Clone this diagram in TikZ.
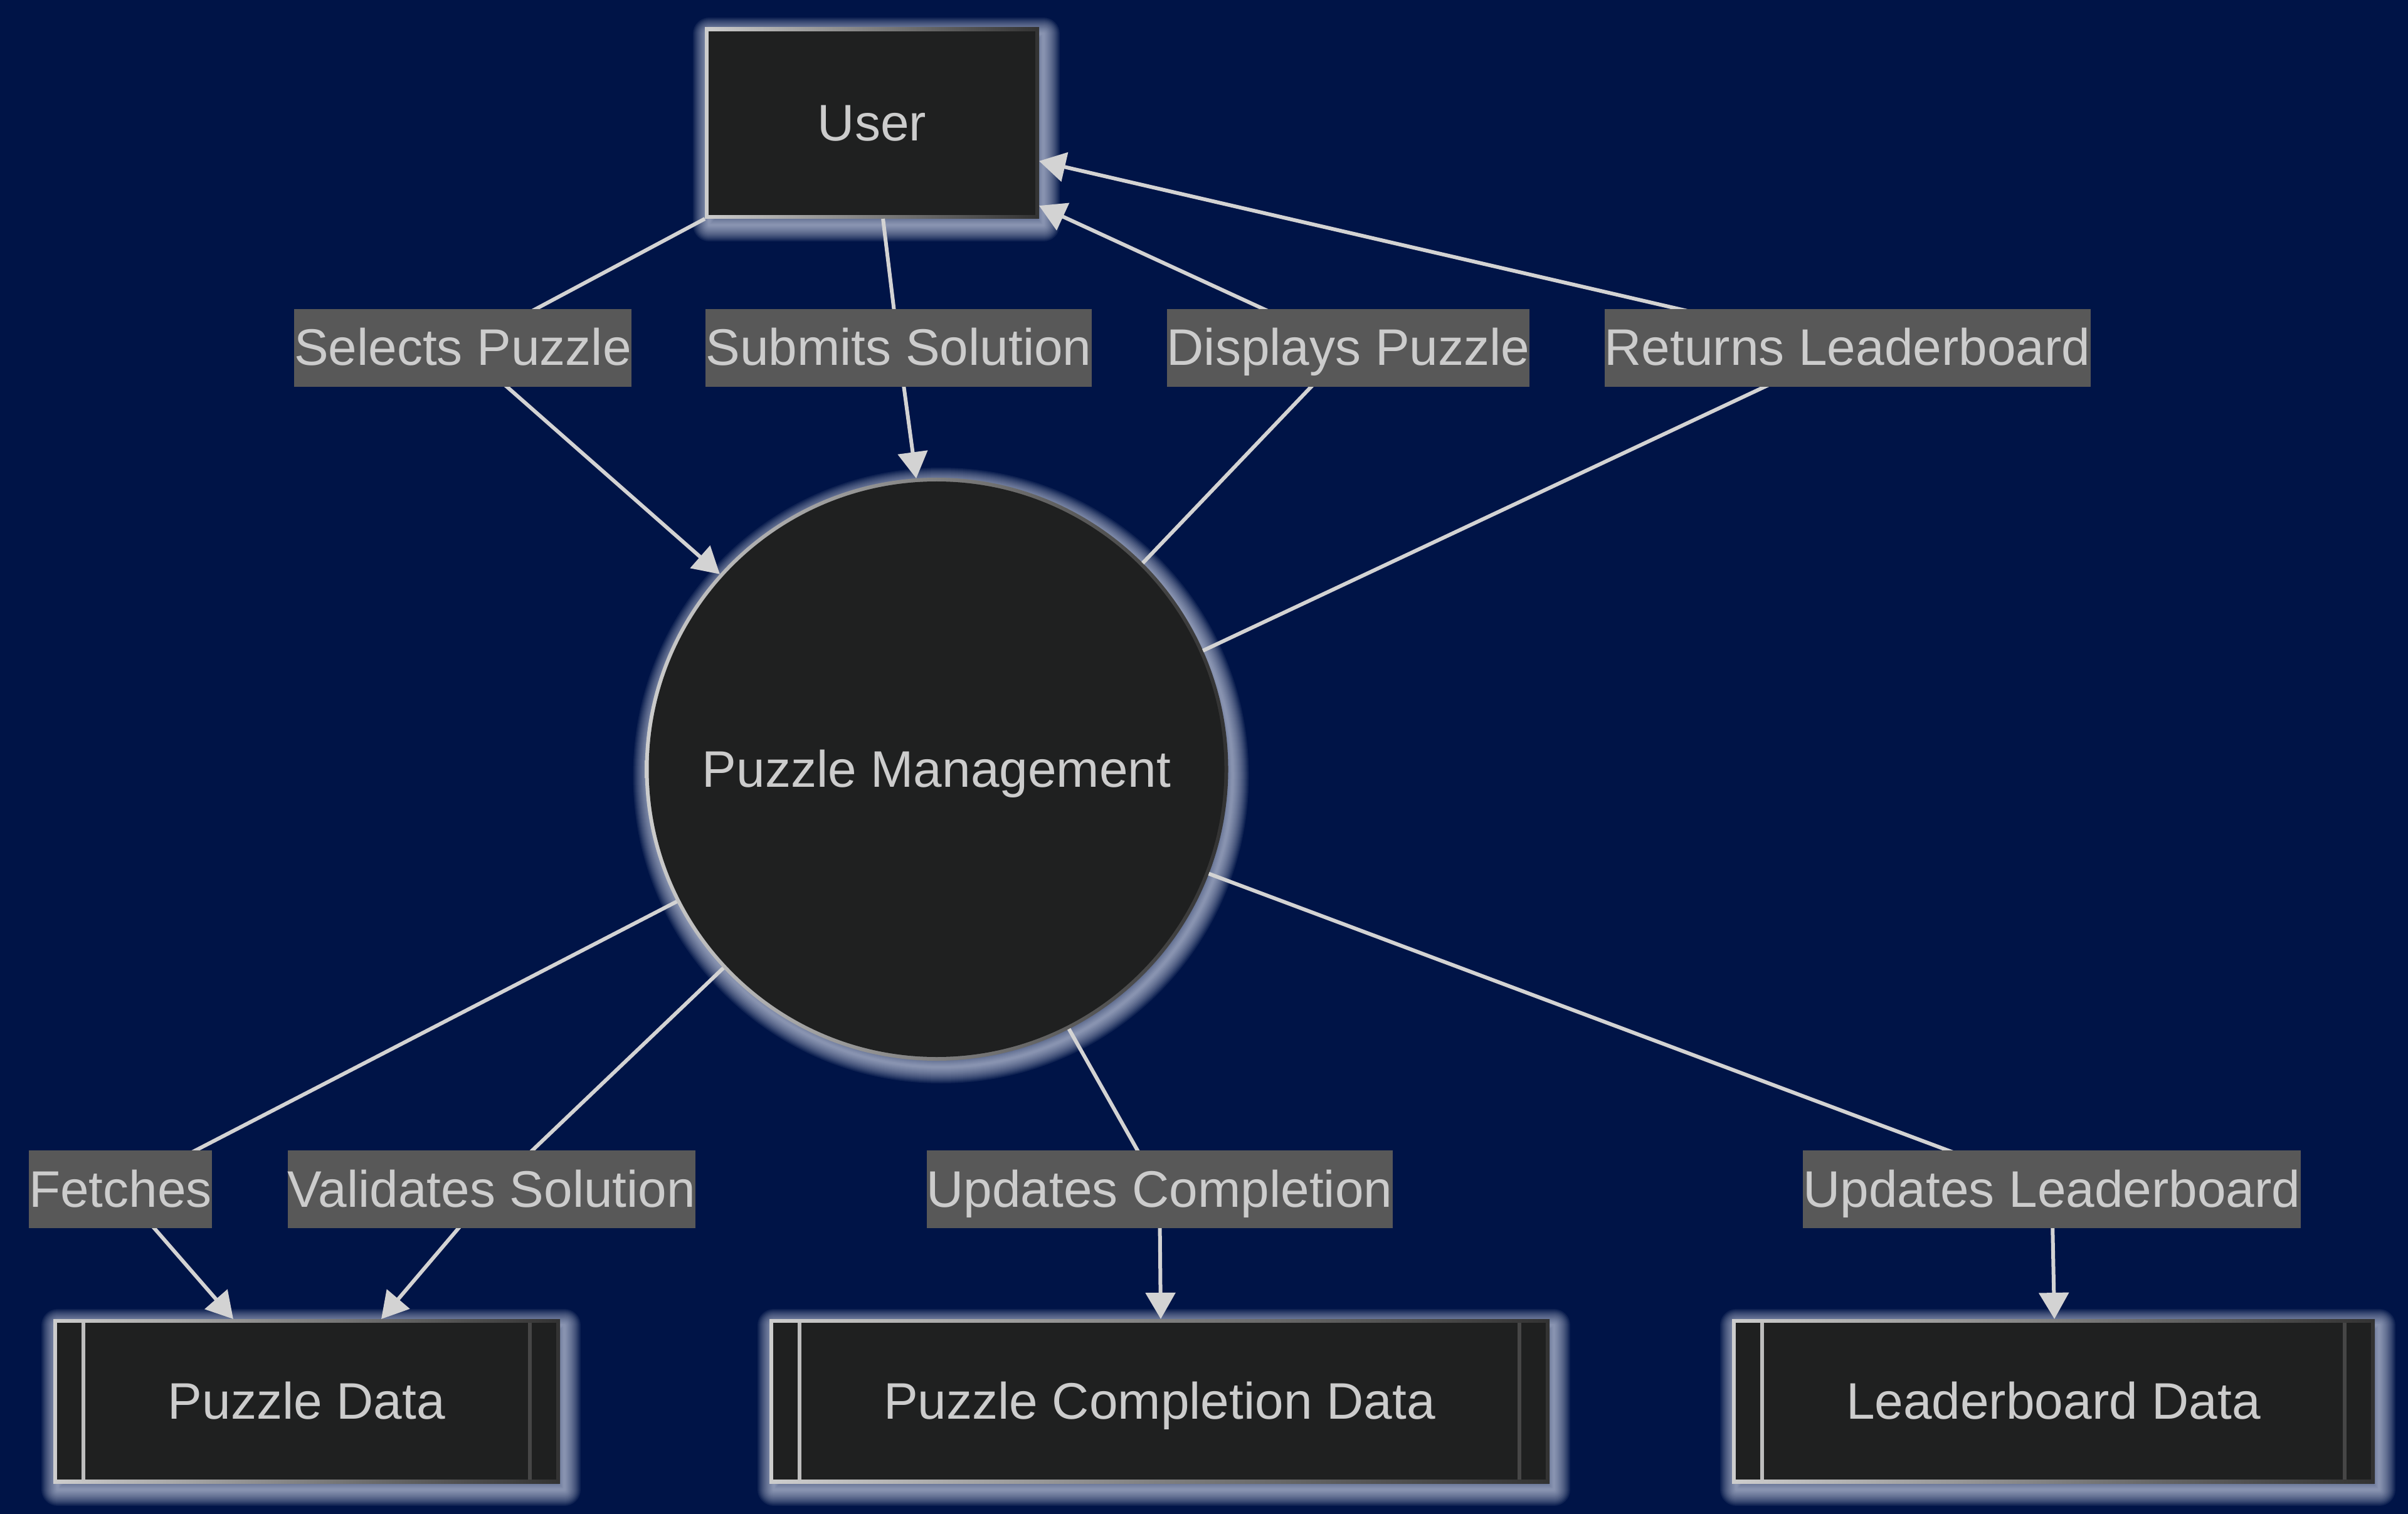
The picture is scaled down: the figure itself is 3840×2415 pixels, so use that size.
\documentclass[tikz,border=0pt]{standalone}
\usepackage{fontspec}
\setmainfont{Liberation Sans}
\usetikzlibrary{arrows.meta,calc}

\pgfdeclarelayer{back}
\pgfdeclarelayer{wires}
\pgfsetlayers{back,wires,main}

\definecolor{canvas}{RGB}{0,20,71}
\definecolor{boxfill}{RGB}{31,32,32}
\definecolor{rimlight}{RGB}{205,205,205}
\definecolor{rimdark}{RGB}{50,50,50}
\definecolor{halo}{RGB}{220,226,242}
\definecolor{wire}{RGB}{211,211,211}
\definecolor{tagbg}{RGB}{88,88,88}
\definecolor{ink}{RGB}{204,204,204}

\tikzset{
  every node/.style={font=\fontsize{20.5pt}{24pt}\selectfont, text=ink,
                     inner sep=0pt, outer sep=0pt,
                     text height=17.5pt, text depth=3.5pt},
  entity/.style={rectangle, minimum width=133.25pt, minimum height=76.25pt},
  process/.style={circle, minimum size=232.5pt},
  store/.style={rectangle, minimum height=65.5pt},
  flowtag/.style={fill=tagbg, minimum height=31pt},
  flow/.style={draw=wire, line width=1.5pt, line join=round,
               -{Triangle[length=10.5pt,width=11.75pt]}},
  haloline/.style={draw=halo, opacity=0.075, line join=round},
}

% soft glow, shaded rim and dark fill behind a rectangular node
\newcommand\rimbox[1]{%
  \foreach \w in {13,12,...,1}
    \draw[haloline, line width=\w pt]
      ([shift={(1.75pt,-2.5pt)}]#1.north west) rectangle
      ([shift={(1.75pt,-2.5pt)}]#1.south east);
  \shade[left color=rimlight, right color=rimdark]
    (#1.north west) rectangle (#1.south east);
  \fill[boxfill] ([shift={(1.5pt,-1.5pt)}]#1.north west) rectangle
                 ([shift={(-1.5pt,1.5pt)}]#1.south east);
}
% data store: framed box with an inner bar near each side
\newcommand\storebox[1]{%
  \rimbox{#1}
  \draw[rimlight!92!black, line width=1.5pt]
    ([shift={(12pt,-1.5pt)}]#1.north west) -- ([shift={(12pt,1.5pt)}]#1.south west);
  \draw[rimdark!90!white, line width=1.5pt]
    ([shift={(-12pt,-1.5pt)}]#1.north east) -- ([shift={(-12pt,1.5pt)}]#1.south east);
}

\begin{document}
\begin{tikzpicture}[x=0.25pt, y=-0.25pt]
  \begin{pgfonlayer}{back}
    \fill[canvas] (0,0) rectangle (3840,2415);
  \end{pgfonlayer}
  \useasboundingbox (0,0) rectangle (3840,2415);

  % nodes
  \node[entity] (user) at (1390.5,196.5) {User};
  \node[process] (pm) at (1493.5,1227) {Puzzle Management};
  \node[store, minimum width=202pt] (pd) at (489,2235) {Puzzle Data};
  \node[store, minimum width=311pt] (pcd) at (1849,2235) {Puzzle Completion Data};
  \node[store, minimum width=256.25pt] (ld) at (3274.5,2235) {Leaderboard Data};

  % flow labels
  \node[flowtag] (l1) at (738,555) {Selects Puzzle};
  \node[flowtag] (l2) at (1433,555) {Submits Solution};
  \node[flowtag] (l3) at (2150,555) {Displays Puzzle};
  \node[flowtag] (l4) at (2946,555) {Returns Leaderboard};
  \node[flowtag] (l5) at (192,1897) {Fetches};
  \node[flowtag] (l6) at (784,1897) {Validates Solution};
  \node[flowtag] (l7) at (1849,1897) {Updates Completion};
  \node[flowtag] (l8) at (3272,1897) {Updates Leaderboard};

  % node bodies
  \begin{pgfonlayer}{back}
    \rimbox{user}
    \storebox{pd}
    \storebox{pcd}
    \storebox{ld}
    \foreach \w in {13,12,...,1}
      \draw[haloline, line width=\w pt]
        ([shift={(1.75pt,-2.5pt)}]pm.center) circle[radius=116.25pt];
    \shade[left color=rimlight, right color=rimdark]
      (pm.center) circle[radius=116.25pt];
    \fill[boxfill] (pm.center) circle[radius=114.75pt];
  \end{pgfonlayer}

  % data flows
  \begin{pgfonlayer}{wires}
    \draw[flow] (user.south west) -- (l1.center) -- (pm.138.4);
    \draw[flow] ([xshift=4.4pt]user.south) -- (l2.center) -- (pm.94.75);
    \draw[flow] (pm.45.6) -- (l3.center) -- ([yshift=-32.9pt]user.east);
    \draw[flow] (pm.24.8) -- (l4.center) -- ([yshift=-15.1pt]user.east);
    \draw[flow] (pm.207.4) -- (l5.center) -- ([xshift=-29.25pt]pd.north);
    \draw[flow] (pm.223.6) -- (l6.center) -- ([xshift=29.75pt]pd.north);
    \draw[flow] (pm.297.9) -- (l7.center) -- ([xshift=0.5pt]pcd.north);
    \draw[flow] (pm.339.6) -- (l8.center) -- ([xshift=0.4pt]ld.north);
  \end{pgfonlayer}
\end{tikzpicture}
\end{document}
